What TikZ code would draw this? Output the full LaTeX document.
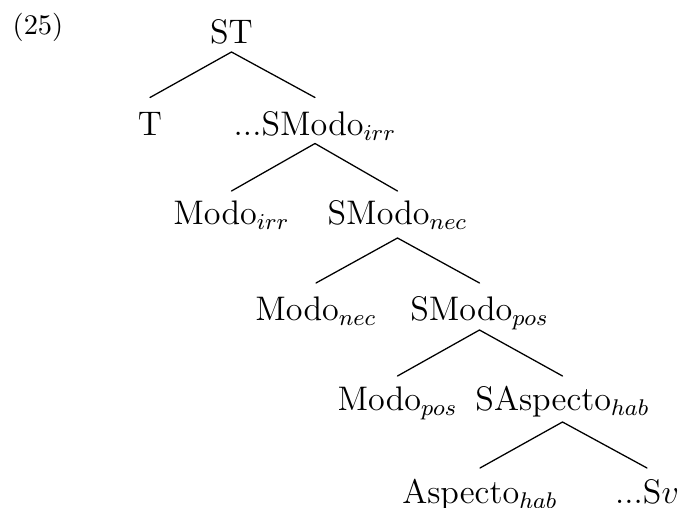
\documentclass[tikz,border=0pt]{standalone}
\begin{document}
\begin{tikzpicture}[x=0.352pt, y=-0.352pt,
  lab/.style={anchor=base, inner sep=0pt, font=\large},
  br/.style={line width=0.45pt, line cap=round}]
\useasboundingbox (0,0) rectangle (679,508);
\node[anchor=base, inner sep=0pt] (ex) at (38,35) {(25)};
\node[lab] (n0) at (231.5,43) {ST};
\node[lab] (n1) at (150,135) {T};
\node[lab] (n2) at (315,135) {...SModo$_{irr}$};
\node[lab] (n3) at (231.5,224.5) {Modo$_{irr}$};
\node[lab] (n4) at (397.5,224.5) {SModo$_{nec}$};
\node[lab] (n5) at (316,320) {Modo$_{nec}$};
\node[lab] (n6) at (479.5,320) {SModo$_{pos}$};
\node[lab] (n7) at (397.5,410) {Modo$_{pos}$};
\node[lab] (n8) at (562.5,410) {SAspecto$_{hab}$};
\node[lab] (n9) at (480,503) {Aspecto$_{hab}$};
\node[lab] (n10) at (647,503) {...S$v$};
\draw[br] ([shift={(0,-37.5)}]n1.base) -- ([shift={(0,9)}]n0.base) -- ([shift={(0,-37.5)}]n2.base);
\draw[br] ([shift={(0,-33.5)}]n3.base) -- ([shift={(0,8.5)}]n2.base) -- ([shift={(0,-33.5)}]n4.base);
\draw[br] ([shift={(0,-37)}]n5.base) -- ([shift={(0,13.5)}]n4.base) -- ([shift={(0,-37)}]n6.base);
\draw[br] ([shift={(0,-34)}]n7.base) -- ([shift={(0,10)}]n6.base) -- ([shift={(0,-34)}]n8.base);
\draw[br] ([shift={(0,-35)}]n9.base) -- ([shift={(0,12)}]n8.base) -- ([shift={(0,-35)}]n10.base);
\end{tikzpicture}
\end{document}
